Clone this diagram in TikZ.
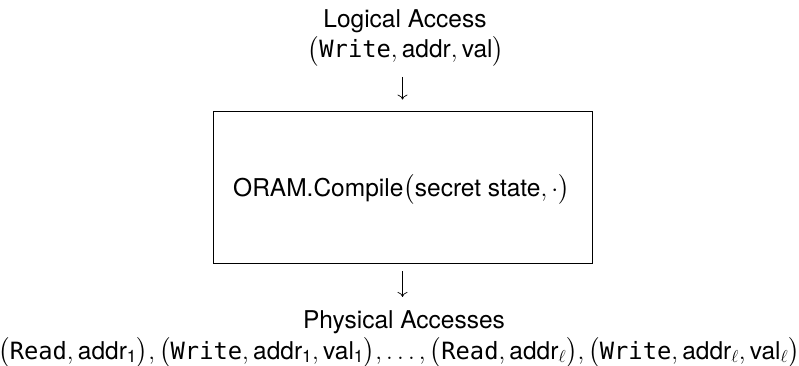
\documentclass[tikz,border=0pt]{standalone}
\usepackage{amsmath}
\usepackage{fontspec}
\setmainfont{TeX Gyre Heros}
\setmonofont{DejaVu Sans Mono}[Scale=0.97]
\usetikzlibrary{arrows.meta}
\tikzset{
  lbl/.style={inner sep=0pt, anchor=base, font=\fontsize{24.5}{29}\selectfont},
  blk/.style={draw, line width=0.8pt, minimum width=379pt, minimum height=152pt, inner sep=0pt},
  flow/.style={line width=0.7pt, -{Computer Modern Rightarrow[length=5pt,width=10pt]}}
}
\newcommand{\tw}[1]{\text{\texttt{#1}}}
\newcommand{\tx}[1]{\text{#1}}
\newcommand{\lp}{\bigl(}
\newcommand{\rp}{\bigr)}
\begin{document}
\begin{tikzpicture}[x=1pt,y=-1pt]
\useasboundingbox (0,0) rectangle (799,366);
\node[lbl] (t1) at (405,28) {Logical Access};
\node[lbl] (t2) at (406,58) {$\lp\tw{Write},\tx{addr},\tx{val}\rp$};
\node[blk] (box) at (402.5,187) {};
\node[lbl] (bt) at (401.5,196) {ORAM.Compile$\lp\tx{secret state},\cdot\rp$};
\node[lbl] (p1) at (404,328) {Physical Accesses};
\node[lbl] (p2) at (399,359) {$\lp\tw{Read},\tx{addr}_{\tx{1}}\rp,\lp\tw{Write},\tx{addr}_{\tx{1}},\tx{val}_{\tx{1}}\rp,\ldots,\lp\tw{Read},\tx{addr}_\ell\rp,\lp\tw{Write},\tx{addr}_\ell,\tx{val}_\ell\rp$};
\draw[flow, shorten <=10pt, shorten >=11pt] (t2.south -| box.north) -- (box.north);
\draw[flow, shorten <=8pt, shorten >=13pt] (box.south) -- (box.south |- p1.north);
\end{tikzpicture}
\end{document}
